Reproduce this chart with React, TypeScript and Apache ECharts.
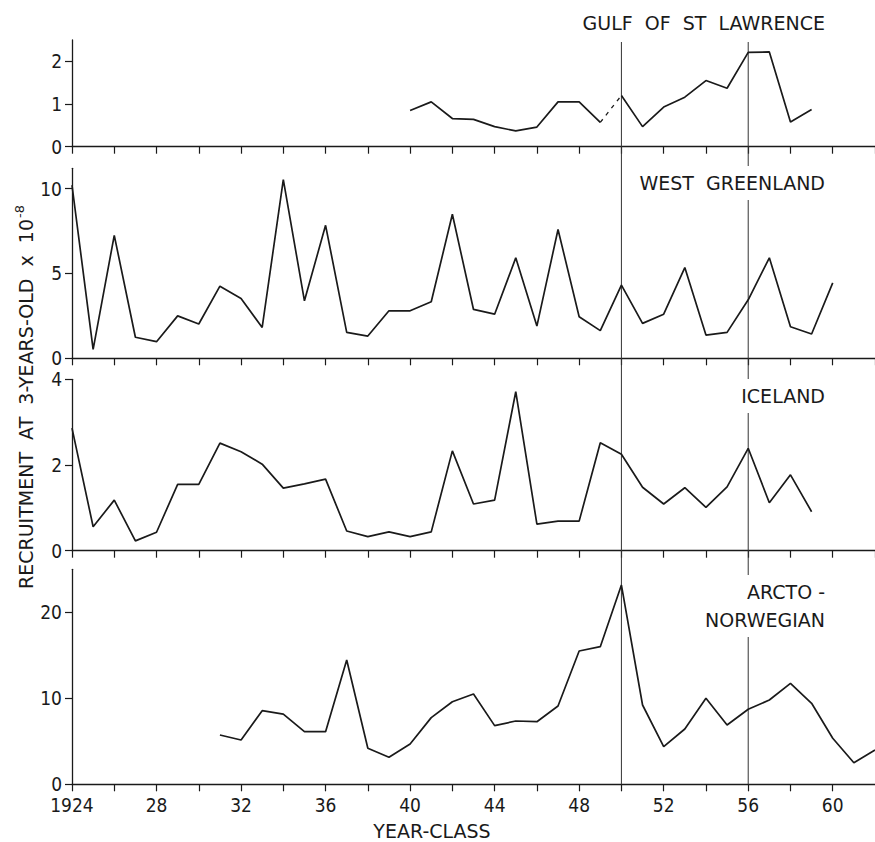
import React, { useEffect, useRef } from "react";
import * as echarts from "echarts";

// ---- data ----
const xTickLabels = ["1924", "28", "32", "36", "40", "44", "48", "52", "56", "60"];
const markYears = [1950, 1956];

const gulfStart = 1940;
const gulfValues = [0.85, 1.05, 0.66, 0.64, 0.47, 0.37, 0.46, 1.05, 1.05, 0.57, 1.2, 0.47, 0.93, 1.16, 1.55, 1.37, 2.21, 2.22, 0.58, 0.87];
const gulfDashedYears = [1949, 1950];

const greenlandStart = 1924;
const greenlandValues = [10.2, 0.53, 7.25, 1.24, 0.98, 2.5, 2.02, 4.25, 3.53, 1.82, 10.53, 3.39, 7.84, 1.53, 1.31, 2.8, 2.8, 3.33, 8.49, 2.88, 2.6, 5.92, 1.9, 7.59, 2.45, 1.63, 4.31, 2.06, 2.6, 5.35, 1.37, 1.53, 3.45, 5.92, 1.86, 1.43, 4.45];

const icelandStart = 1924;
const icelandValues = [2.86, 0.56, 1.18, 0.23, 0.43, 1.55, 1.55, 2.51, 2.31, 2.02, 1.46, 1.56, 1.67, 0.46, 0.33, 0.44, 0.33, 0.44, 2.33, 1.09, 1.18, 3.71, 0.62, 0.69, 0.69, 2.52, 2.25, 1.48, 1.09, 1.47, 1.01, 1.49, 2.39, 1.12, 1.77, 0.91];

const arctoStart = 1931;
const arctoValues = [5.73, 5.15, 8.56, 8.17, 6.12, 6.12, 14.45, 4.19, 3.14, 4.69, 7.75, 9.6, 10.5, 6.82, 7.36, 7.28, 9.1, 15.5, 16.0, 23.17, 9.22, 4.38, 6.43, 10.0, 6.9, 8.72, 9.8, 11.74, 9.42, 5.35, 2.51, 3.99];

const panelTitles = ["GULF  OF  ST  LAWRENCE", "WEST  GREENLAND", "ICELAND", "ARCTO -\nNORWEGIAN"];
const yMaxes = [2.5, 11.2, 4, 25];
const yTicks = [[0, 1, 2], [0, 5, 10], [0, 2, 4], [0, 10, 20]];
const yTitle = "RECRUITMENT  AT  3-YEARS-OLD  x  10";
const yTitleExp = "-8";
const xTitle = "YEAR-CLASS";

const INK = "#1a1a1a";
const NARROW = "'Liberation Sans Narrow', 'DejaVu Sans Condensed', 'DejaVu Sans', sans-serif";
const SANS = "'DejaVu Sans', sans-serif";

const pairs = (start: number, vals: number[]) => vals.map((v, i) => [start + i, v]);

export default function App() {
  const ref = useRef<HTMLDivElement>(null);
  useEffect(() => {
    document.body.style.margin = "0";
    const chart = echarts.init(ref.current!, null, { renderer: "svg" });

    const grids = [
      { top: 40, height: 106.7 },
      { top: 168.3, height: 190 },
      { top: 379.3, height: 171.4 },
      { top: 569.3, height: 215 },
    ].map((g) => ({ left: 72, right: 0, top: g.top, height: g.height, containLabel: false }));

    const xAxes = grids.map((_, i) => ({
      type: "value",
      gridIndex: i,
      min: 1924,
      max: 1962,
      interval: 2,
      axisLine: { show: true, lineStyle: { color: INK, width: 1.3 } },
      axisTick: { show: true, inside: false, length: 7, lineStyle: { color: INK, width: 1.2 } },
      splitLine: { show: false },
      axisLabel: {
        show: i === 3,
        margin: 13,
        color: INK,
        fontSize: 19,
        lineHeight: 15,
        fontFamily: NARROW,
        showMaxLabel: false,
        formatter: (v: number) => {
          const k = (v - 1924) / 4;
          return Number.isInteger(k) && k < xTickLabels.length ? xTickLabels[k] : "";
        },
      },
    }));

    const yAxes = grids.map((_, i) => ({
      type: "value",
      gridIndex: i,
      min: 0,
      max: yMaxes[i],
      axisLine: { show: true, lineStyle: { color: INK, width: 1.3 } },
      axisTick: { show: true, inside: false, length: 7, customValues: yTicks[i], lineStyle: { color: INK, width: 1.2 } },
      splitLine: { show: false },
      axisLabel: { customValues: yTicks[i], margin: 10, color: INK, fontSize: 19, lineHeight: 15, fontFamily: NARROW },
    }));

    const lineStyle = { color: INK, width: 1.7 };
    const mk = (data: number[][], idx: number, extra: any = {}) => ({
      type: "line",
      xAxisIndex: idx,
      yAxisIndex: idx,
      data,
      symbol: "none",
      lineStyle: { ...lineStyle, ...(extra.lineStyle || {}) },
      z: 3,
    });

    const gulfPairs = pairs(gulfStart, gulfValues);
    const gulfA = gulfPairs.filter((p) => p[0] <= gulfDashedYears[0]);
    const gulfB = gulfPairs.filter((p) => p[0] >= gulfDashedYears[1]);
    const gulfDash = gulfPairs.filter((p) => p[0] >= gulfDashedYears[0] && p[0] <= gulfDashedYears[1]);

    chart.setOption({
      animation: false,
      backgroundColor: "#ffffff",
      grid: grids,
      xAxis: xAxes,
      yAxis: yAxes,
      series: [
        mk(gulfA, 0),
        mk(gulfB, 0),
        mk(gulfDash, 0, { lineStyle: { type: [4, 5], width: 1.3 } }),
        mk(pairs(greenlandStart, greenlandValues), 1),
        mk(pairs(icelandStart, icelandValues), 2),
        mk(pairs(arctoStart, arctoValues), 3),
      ],
    });

    const yTop = chart.convertToPixel({ yAxisIndex: 0 }, yMaxes[0]) as number;
    const yBot = chart.convertToPixel({ yAxisIndex: 3 }, 0) as number;
    const vLines = markYears.map((yr) => {
      const x = chart.convertToPixel({ xAxisIndex: 0 }, yr) as number;
      return {
        type: "line",
        z: 1,
        shape: { x1: x, y1: yTop + 2, x2: x, y2: yBot },
        style: { stroke: "#333", lineWidth: 1 },
      };
    });

    const titlePos = [
      { x: 827, y: 23 },
      { x: 827, y: 183 },
      { x: 827, y: 396 },
      { x: 827, y: 606 },
    ];
    const titles = panelTitles.map((t, i) => ({
      type: "text",
      z: 10,
      x: titlePos[i].x,
      y: titlePos[i].y,
      style: {
        text: t,
        fill: INK,
        font: `19px ${SANS}`,
        align: "right",
        verticalAlign: "middle",
        lineHeight: 28,
        backgroundColor: "#ffffff",
        padding: [3, 2, 3, 4],
      },
    }));

    chart.setOption({
      graphic: [
        ...vLines,
        ...titles,
        {
          type: "text",
          z: 10,
          x: 24,
          y: 397,
          rotation: Math.PI / 2,
          style: {
            text: `{a|${yTitle}}{s|${yTitleExp}}`,
            fill: INK,
            font: `19px ${SANS}`,
            align: "center",
            verticalAlign: "middle",
            rich: {
              a: { fontSize: 19, fontFamily: SANS, fill: INK, lineHeight: 22, verticalAlign: "bottom" },
              s: { fontSize: 13, fontFamily: SANS, fill: INK, lineHeight: 22, verticalAlign: "top", padding: [0, 0, 9, 1] },
            },
          },
        },
        {
          type: "text",
          z: 10,
          x: 432,
          y: 831,
          style: { text: xTitle, fill: INK, font: `19px ${SANS}`, align: "center", verticalAlign: "middle" },
        },
      ],
    });

    return () => chart.dispose();
  }, []);
  return <div ref={ref} style={{ width: 875, height: 842 }} />;
}
